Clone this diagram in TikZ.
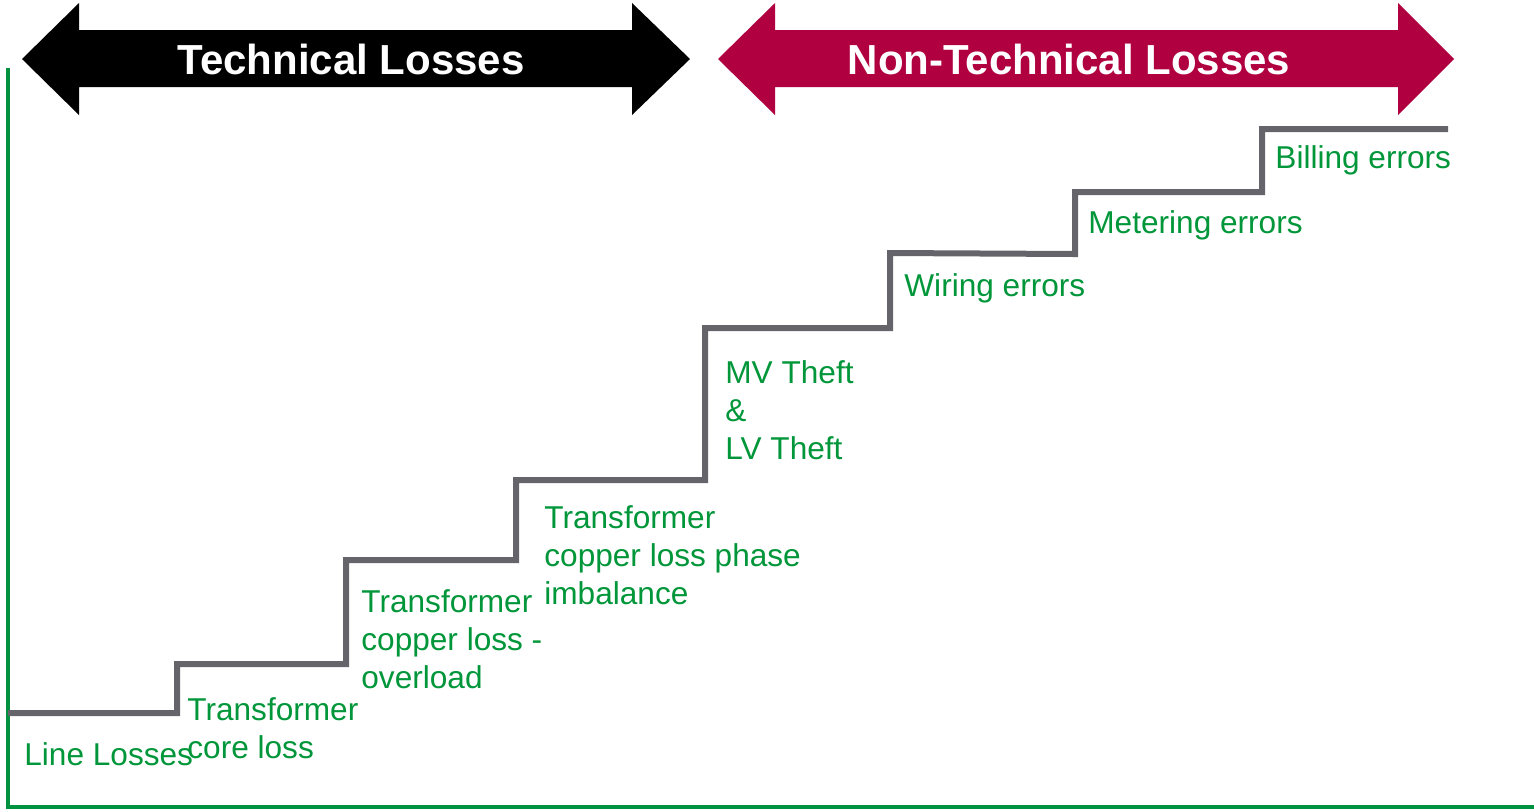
\documentclass[tikz,border=0pt]{standalone}
\usepackage{fontspec}
\setmainfont{Liberation Sans}
\definecolor{lossgreen}{RGB}{0,150,57}
\definecolor{framegreen}{RGB}{0,146,63}
\definecolor{stairgray}{RGB}{100,100,106}
\definecolor{ntred}{RGB}{176,0,64}
\tikzset{
  lbl/.style={anchor=base west, inner sep=0pt, text=lossgreen, align=left,
              font=\fontsize{15.8}{19}\selectfont},
  banner/.style={anchor=base, inner sep=0pt, text=white,
                 font=\fontsize{21}{25}\selectfont\bfseries},
  stair/.style={draw=stairgray, line width=3pt, line join=miter},
  frame/.style={draw=framegreen, line width=2.3pt, line join=miter}
}
\begin{document}
\begin{tikzpicture}[x=0.5pt, y=-0.5pt]
  \useasboundingbox (0,0) rectangle (1534,811);

  % double-headed banner arrows
  \fill[black] (22,59) -- (79,3) -- (79,30) -- (632,30) -- (632,3) -- (690,59)
    -- (632,115) -- (632,87) -- (79,87) -- (79,115) -- cycle;
  \fill[ntred] (718,59) -- (775,3) -- (775,30) -- (1398,30) -- (1398,3) -- (1454,59)
    -- (1398,115) -- (1398,87) -- (775,87) -- (775,115) -- cycle;
  \node[banner] (tech) at (351,74) {Technical Losses};
  \node[banner] (nontech) at (1069,74) {Non-Technical Losses};

  % axis frame
  \coordinate (axtop) at (8,68);
  \coordinate (axorigin) at (8,807);
  \coordinate (axright) at (1534,807);
  \draw[frame] (axtop) -- (axorigin) -- (axright);

  % staircase
  \draw[stair] (8,713) -- (177,713) -- (177,664) -- (346,664) -- (346,560)
    -- (516,560) -- (516,480) -- (705,480) -- (705,328) -- (890,328)
    -- (890,253) -- (1075,254) -- (1075,192) -- (1262,192) -- (1262,129)
    -- (1448,129);

  % step labels (anchored on the baseline of the last line)
  \node[lbl] (line) at (24,765) {Line Losses};
  \node[lbl] (core) at (187,758) {Transformer\\core loss};
  \node[lbl] (overload) at (361,688) {Transformer\\copper loss -\\overload};
  \node[lbl] (phase) at (544,604) {Transformer\\copper loss phase\\imbalance};
  \node[lbl] (theft) at (725,459) {MV Theft\\\&\\LV Theft};
  \node[lbl] (wiring) at (904,296) {Wiring errors};
  \node[lbl] (metering) at (1088,233) {Metering errors};
  \node[lbl] (billing) at (1275,168) {Billing errors};
\end{tikzpicture}
\end{document}
